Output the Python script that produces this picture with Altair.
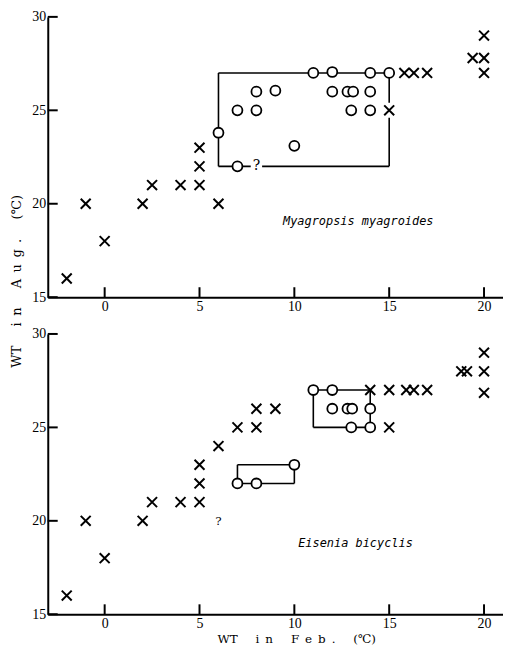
import altair as alt
import pandas as pd

# ---------------- data: upper panel (Myagropsis myagroides) ----------------
top_cross_x = [-2, -1, 0, 2, 2.5, 4, 5, 5, 5, 6, 15, 15.8, 16.3, 17, 19.4, 20, 20, 20]
top_cross_y = [16, 20, 18, 20, 21, 21, 21, 22, 23, 20, 25, 27, 27, 27, 27.8, 27.8, 29, 27]
top_circ_x = [6, 7, 7, 8, 8, 9, 10, 11, 12, 12, 12.8, 13.1, 13, 14, 14, 14, 15]
top_circ_y = [23.8, 22, 25, 25, 26, 26.05, 23.1, 27, 27.05, 26, 26, 26, 25, 26, 25, 27, 27]
top_seg_x1 = [6, 6, 6, 8.3, 15, 15]
top_seg_y1 = [27, 27, 22, 22, 22, 25.4]
top_seg_x2 = [15, 6, 7.7, 15, 15, 15]
top_seg_y2 = [27, 22, 22, 22, 24.6, 27]
top_q_x = [8]
top_q_y = [22]
top_name = "Myagropsis myagroides"
top_name_x = 9.4
top_name_y = 19.05

# ---------------- data: lower panel (Eisenia bicyclis) ----------------
bot_cross_x = [-2, -1, 0, 2, 2.5, 4, 5, 5, 5, 6, 7, 8, 8, 9, 14, 15, 15.9, 16.3, 17, 15,
               18.8, 19.1, 20, 20, 20]
bot_cross_y = [16, 20, 18, 20, 21, 21, 21, 22, 23, 24, 25, 25, 26, 26, 27, 27, 27, 27, 27, 25,
               28, 28, 28, 29, 26.85]
bot_circ_x = [7, 8, 10, 11, 12, 12, 12.8, 13.05, 14, 13, 14]
bot_circ_y = [22, 22, 23, 27, 27, 26, 26, 26, 26, 25, 25]
bot_seg_x1 = [7, 7, 10, 7, 11, 11, 11, 14]
bot_seg_y1 = [22, 23, 23, 22, 27, 27, 25, 25]
bot_seg_x2 = [7, 10, 10, 10, 14, 11, 14, 14]
bot_seg_y2 = [23, 23, 22, 22, 27, 25, 25, 27]
bot_q_x = [6]
bot_q_y = [20]
bot_name = "Eisenia bicyclis"
bot_name_x = 10.2
bot_name_y = 18.8

# axes
x_domain = [-3, 21]
y_domain = [15, 30]
x_ticks = [0, 5, 10, 15, 20]
y_ticks = [15, 20, 25, 30]
GAP = "\u2003\u2002"
EN = "\u2002"
x_title = "WT" + GAP + "i" + EN + "n" + GAP + "F" + EN + "e" + EN + "b" + EN + "." + GAP + "(℃)"
y_title = "WT" + GAP + "i" + EN + "n" + GAP + "A" + EN + "u" + EN + "g" + EN + "." + GAP + "(℃)"

W = 458
H = 282

CROSS = "M-1,-1L1,1M-1,1L1,-1"


def panel(cx, cy, ox, oy, sx1, sy1, sx2, sy2, qx, qy, qsize, name, nx, ny,
          with_xtitle, with_ytitle):
    xs = alt.Scale(domain=x_domain, nice=False, zero=False)
    ys = alt.Scale(domain=y_domain, nice=False, zero=False)
    if with_xtitle:
        xaxis = alt.Axis(values=x_ticks, title=x_title, titleX=250, titleY=19,
                         titleBaseline="top", titleAlign="center",
                         titleFont="DejaVu Serif", titleFontSize=12,
                         titleFontWeight="normal", titleColor="black")
    else:
        xaxis = alt.Axis(values=x_ticks, title=None)
    yaxis = alt.Axis(values=y_ticks, title=None)

    def X(f="x"):
        return alt.X(f + ":Q", scale=xs, axis=xaxis)

    def Y(f="y"):
        return alt.Y(f + ":Q", scale=ys, axis=yaxis)

    seg_df = pd.DataFrame({"x": sx1, "y": sy1, "x2": sx2, "y2": sy2})
    segs = alt.Chart(seg_df).mark_rule(color="black", strokeWidth=1.6).encode(
        x=X(), y=Y(), x2="x2:Q", y2="y2:Q")

    xt_df = pd.DataFrame({"x": x_ticks})
    xt = alt.Chart(xt_df).mark_rule(color="black", strokeWidth=2).encode(
        x=X(), y=alt.value(H), y2=alt.value(H - 10))
    yt_df = pd.DataFrame({"y": y_ticks})
    yt = alt.Chart(yt_df).mark_rule(color="black", strokeWidth=2).encode(
        y=Y(), x=alt.value(0), x2=alt.value(10))

    circ_df = pd.DataFrame({"x": ox, "y": oy})
    circ = alt.Chart(circ_df).mark_point(
        shape="circle", filled=True, fill="white", stroke="black",
        strokeWidth=1.8, size=100, opacity=1).encode(x=X(), y=Y())

    cross_df = pd.DataFrame({"x": cx, "y": cy})
    cross = alt.Chart(cross_df).mark_point(
        shape=CROSS, filled=False, stroke="black", strokeWidth=2,
        size=100, opacity=1).encode(x=X(), y=Y())

    q_df = pd.DataFrame({"x": qx, "y": qy, "t": ["?"] * len(qx)})
    q = alt.Chart(q_df).mark_text(font="DejaVu Serif", fontSize=qsize,
                                  color="black").encode(x=X(), y=Y(), text="t:N")

    n_df = pd.DataFrame({"x": [nx], "y": [ny], "t": [name]})
    nm = alt.Chart(n_df).mark_text(font="DejaVu Sans Mono", fontStyle="italic",
                                   fontSize=12, align="left", color="black").encode(
        x=X(), y=Y(), text="t:N")

    layers = [segs, xt, yt, circ, cross, q, nm]
    if with_ytitle:
        yl = alt.Chart(alt.Data(values=[{}])).mark_text(
            angle=270, font="DejaVu Serif", fontSize=13, color="black",
            align="center", baseline="middle").encode(
            x=alt.value(-31), y=alt.value(266), text=alt.value(y_title))
        layers.append(yl)
    return alt.layer(*layers).properties(width=W, height=H)


top = panel(top_cross_x, top_cross_y, top_circ_x, top_circ_y,
            top_seg_x1, top_seg_y1, top_seg_x2, top_seg_y2,
            top_q_x, top_q_y, 14, top_name, top_name_x, top_name_y, False, True)
bottom = panel(bot_cross_x, bot_cross_y, bot_circ_x, bot_circ_y,
               bot_seg_x1, bot_seg_y1, bot_seg_x2, bot_seg_y2,
               bot_q_x, bot_q_y, 12, bot_name, bot_name_x, bot_name_y, True, False)

chart = alt.vconcat(top, bottom, spacing=37, bounds="flush").properties(
    padding={"left": 3, "top": 0, "right": 0, "bottom": 0}
).configure_view(stroke=None).configure_axis(
    domainColor="black", domainWidth=2, ticks=False, grid=False,
    labelFont="Liberation Serif", labelFontSize=14, labelColor="black",
    labelPadding=2
)

chart.save("out.html", embed_options={"renderer": "svg", "actions": False})
